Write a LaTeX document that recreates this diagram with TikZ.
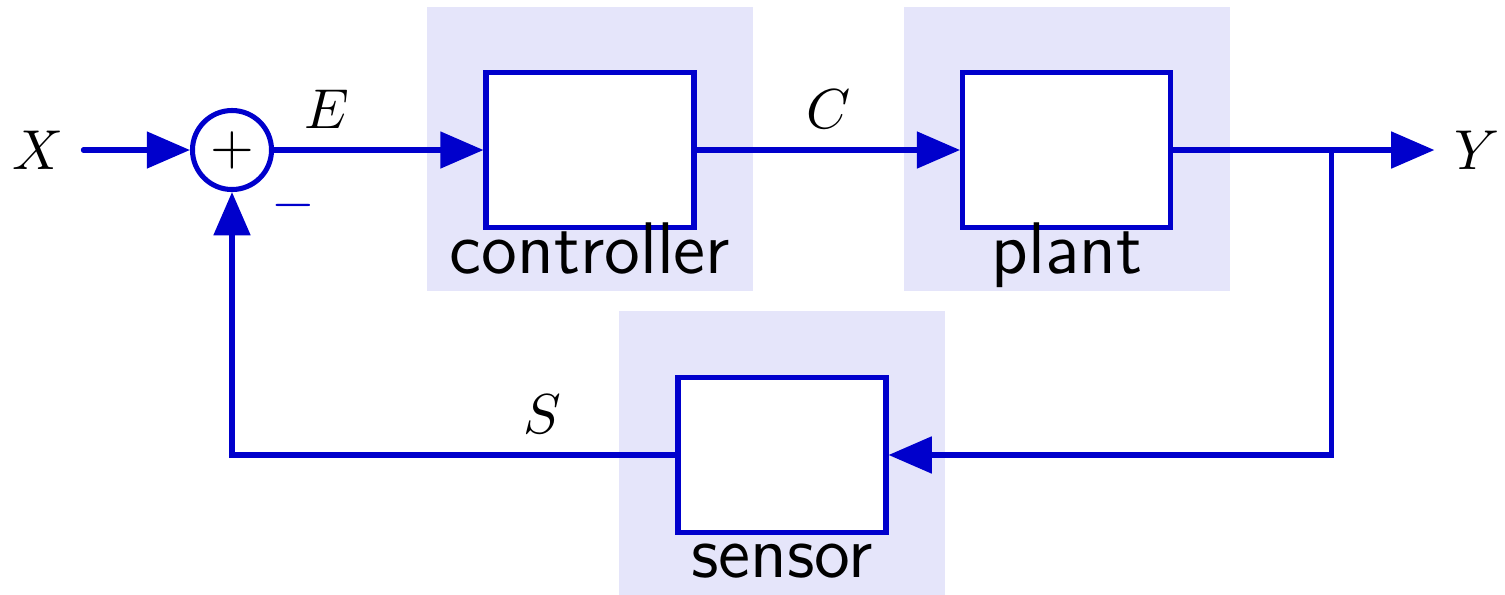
\documentclass[tikz,border=0pt]{standalone}
\usepackage{tikz}
\usetikzlibrary{arrows.meta, positioning, calc}
\definecolor{sigblue}{RGB}{0,0,204}
\definecolor{bgblue}{RGB}{229,229,250}

\begin{document}
\begin{tikzpicture}[
        blockbg/.style={rectangle, fill=bgblue, inner sep=0pt, minimum width=2.0375cm, minimum height=1.775cm},
        block/.style={rectangle, draw=sigblue, fill=white, line width=0.9pt, inner sep=0pt, minimum width=1.30cm, minimum height=0.97cm},
        sumnode/.style={circle, draw=sigblue, fill=white, line width=0.9pt, inner sep=0pt, minimum size=0.494cm},
        blabel/.style={anchor=base, font=\fontsize{13}{15}\selectfont\sffamily},
        sig/.style={draw=sigblue, line width=0.9pt, line cap=round, -{Triangle[length=0.27cm, width=0.225cm]}}
    ]
        \useasboundingbox (0, 0) rectangle (9.406, 3.7125);

        % Fondos de los bloques
        \node [blockbg] (ctrlbg) at (3.6875, 2.78) {};
        \node [blockbg] (plantbg) at (6.669, 2.78) {};
        \node [blockbg] (sensbg) at (4.8875, 0.884) {};

        % Bloques y sumador
        \node [sumnode] (sum) at (1.45, 2.775) {$+$};
        \node [block] (ctrl) at (3.6875, 2.775) {};
        \node [block] (plant) at (6.666, 2.775) {};
        \node [block] (sens) at (4.8875, 0.869) {};

        \node [blabel] (ctrllabel) at (3.6875, 2.006) {controller};
        \node [blabel] (plantlabel) at (6.669, 2.006) {plant};
        \node [blabel] (senslabel) at (4.8875, 0.106) {sensor};

        % Entrada y salida
        \node (xin) at (0.2375, 2.775) {$X$};
        \node (yout) at (9.23, 2.775) {$Y$};
        \node [text=sigblue] (minus) at (1.831, 2.431) {$-$};
        \coordinate (branch) at (8.319, 2.775);

        % Conexiones
        \draw [sig] (xin.east) -- (sum.west);
        \draw [sig] (sum.east) -- node[pos=0.25, above] {$E$} (ctrl.west);
        \draw [sig] (ctrl.east) -- node[midway, above] {$C$} (plant.west);
        \draw [sig] (plant.east) -- (yout.west);
        \draw [sig] (branch) |- (sens.east);
        \draw [sig] (sens.west) -| node[pos=0.15, above] {$S$} (sum.south);
    \end{tikzpicture}
\end{document}
